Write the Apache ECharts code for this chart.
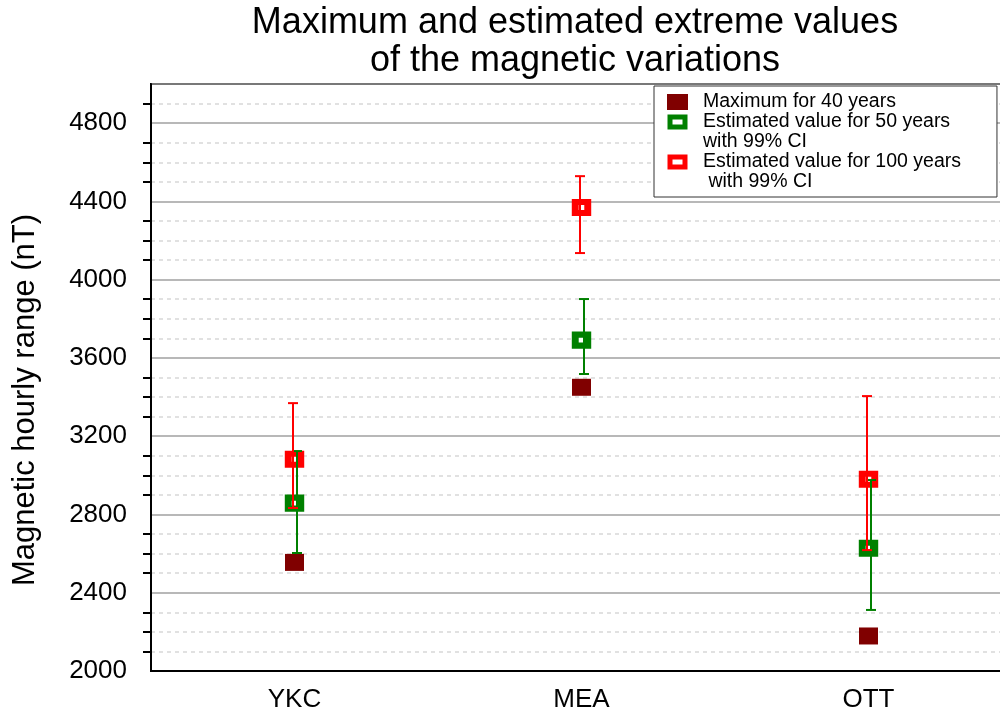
<!DOCTYPE html>
<html>
<head>
    <meta charset="utf-8">
    <title>ECharts</title>
    <script src="https://cdn.jsdelivr.net/npm/echarts/dist/echarts.min.js"></script>
</head>
<body style="margin:0;overflow:hidden">
    <!-- the plot area runs past the right edge of the picture, as in the original figure -->
    <div id="main" style="width: 1013px;height:715px;"></div>
    <script>
        var stations = ['YKC', 'MEA', 'OTT'];
        var yTicks = [2000, 2400, 2800, 3200, 3600, 4000, 4400, 4800];

        // maximum observed over 40 years
        var max40 = [2555, 3450, 2179];
        // estimated 50-year value and its 99% CI
        var est50 = [2858, 3691, 2627];
        var est50Low = [2603, 3518, 2312];
        var est50High = [3124, 3901, 2976];
        // estimated 100-year value and its 99% CI
        var est100 = [3082, 4369, 2980];
        var est100Low = [2833, 4136, 2618];
        var est100High = [3369, 4529, 3405];

        var legendNames = {
            'Maximum for 40 years': 'Maximum for 40 years',
            'Estimated value for 50 years': '\nEstimated value for 50 years\nwith 99% CI',
            'Estimated value for 100 years': '\nEstimated value for 100 years\n with 99% CI'
        };

        var chartDom = document.getElementById('main');
        var myChart = echarts.init(chartDom);
        var option;

        function errorBars(name, color, low, high, dx) {
            return {
                type: 'custom',
                name: name,
                z: 5,
                data: stations.map(function (s, i) { return [i, low[i], high[i]]; }),
                encode: { x: 0, y: [1, 2] },
                renderItem: function (params, api) {
                    var lo = api.coord([api.value(0), api.value(1)]);
                    var hi = api.coord([api.value(0), api.value(2)]);
                    var x = lo[0] + dx;
                    var half = 5;
                    var style = { stroke: color, lineWidth: 2 };
                    return {
                        type: 'group',
                        children: [
                            { type: 'line', shape: { x1: x, y1: hi[1], x2: x, y2: lo[1] }, style: style },
                            { type: 'line', shape: { x1: x - half, y1: hi[1], x2: x + half, y2: hi[1] }, style: style },
                            { type: 'line', shape: { x1: x - half, y1: lo[1], x2: x + half, y2: lo[1] }, style: style }
                        ]
                    };
                }
            };
        }

        option = {
            animation: false,
            backgroundColor: '#fff',
            textStyle: { fontFamily: 'Liberation Sans, Arial, sans-serif' },
            title: {
                text: 'Maximum and estimated extreme values\nof the magnetic variations',
                left: 570,
                top: -1,
                textAlign: 'center',
                textStyle: { fontSize: 36, fontWeight: 'normal', color: '#000', lineHeight: 38 }
            },
            legend: {
                left: 654,
                top: 86,
                orient: 'vertical',
                itemGap: -20,
                itemWidth: 15,
                itemHeight: 10,
                padding: [6, 36, 5, 13],
                borderColor: '#333',
                borderWidth: 1,
                backgroundColor: '#fff',
                textStyle: { fontSize: 19.5, lineHeight: 20, color: '#000', padding: [0, 0, 0, 13] },
                formatter: function (n) { return legendNames[n]; },
                data: [
                    { name: 'Maximum for 40 years', itemStyle: { color: '#800000', borderColor: '#800000', borderWidth: 6 } },
                    { name: 'Estimated value for 50 years', itemStyle: { color: '#fff', borderColor: '#008000', borderWidth: 5 } },
                    { name: 'Estimated value for 100 years', itemStyle: { color: '#fff', borderColor: '#ff0000', borderWidth: 5 } }
                ]
            },
            grid: {
                left: 151,
                right: 1,
                top: 84,
                bottom: 44,
                show: true,
                borderColor: '#000',
                borderWidth: 2
            },
            xAxis: {
                type: 'category',
                data: stations,
                boundaryGap: true,
                axisLine: { lineStyle: { color: '#000', width: 2 } },
                axisTick: { alignWithLabel: true, length: 12, lineStyle: { color: '#000', width: 2 } },
                axisLabel: { fontSize: 26, color: '#000', margin: 16 },
                splitLine: { show: false }
            },
            yAxis: {
                type: 'value',
                min: 2000,
                max: 5000,
                interval: 400,
                name: 'Magnetic hourly range (nT)',
                nameLocation: 'middle',
                nameGap: 110,
                nameTextStyle: { fontSize: 31, color: '#000', padding: [0, 45, 0, 0] },
                axisLine: { show: true, lineStyle: { color: '#000', width: 2 } },
                axisTick: { length: 14, lineStyle: { color: '#000', width: 2 } },
                minorTick: { show: true, splitNumber: 4, length: 8, lineStyle: { color: '#000', width: 2 } },
                axisLabel: {
                    fontSize: 26, color: '#000', margin: 24, showMaxLabel: false,
                    formatter: function (v) { return yTicks.indexOf(v) >= 0 ? String(v) : ''; }
                },
                splitLine: { lineStyle: { color: '#a0a0a0', width: 1.5 } },
                minorSplitLine: { show: true, lineStyle: { color: '#d8d8d8', type: [4, 4], width: 1.5 } }
            },
            series: [
                {
                    type: 'scatter',
                    name: 'Maximum for 40 years',
                    data: max40,
                    symbol: 'rect',
                    symbolSize: [19, 17],
                    itemStyle: { color: '#800000', opacity: 1 },
                    z: 3
                },
                {
                    type: 'scatter',
                    name: 'Estimated value for 50 years',
                    data: est50,
                    symbol: 'rect',
                    symbolSize: [12.5, 11],
                    itemStyle: { color: '#fff', borderColor: '#008000', borderWidth: 6.5, opacity: 1 },
                    z: 3
                },
                {
                    type: 'scatter',
                    name: 'Estimated value for 100 years',
                    data: est100,
                    symbol: 'rect',
                    symbolSize: [12.5, 11],
                    itemStyle: { color: '#fff', borderColor: '#ff0000', borderWidth: 6.5, opacity: 1 },
                    z: 3
                },
                errorBars('ci50', '#008000', est50Low, est50High, 2.5),
                errorBars('ci100', '#ff0000', est100Low, est100High, -1.5)
            ]
        };

        option && myChart.setOption(option);
    </script>
</body>
</html>
